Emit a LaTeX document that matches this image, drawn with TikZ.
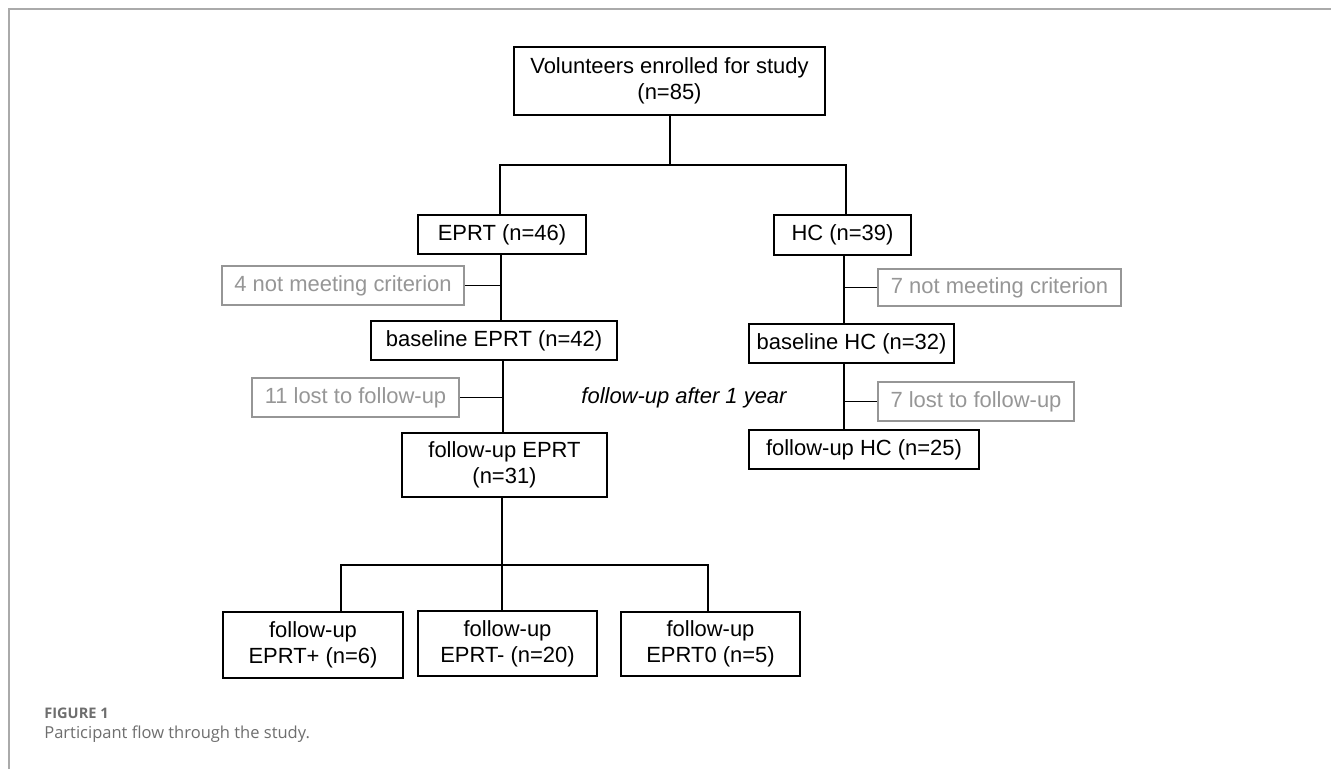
\documentclass[tikz,border=0pt]{standalone}
\usepackage{fontspec}
\setmainfont{Liberation Sans}
\newfontfamily\capfont{Open Sans}
\usetikzlibrary{positioning}
\definecolor{dropgray}{RGB}{150,150,150}
\definecolor{framegray}{RGB}{170,170,170}
\definecolor{capgray}{RGB}{110,110,110}
\tikzset{
  box/.style={draw, line width=1.1pt, align=center, inner sep=0pt,
    font=\fontsize{12.5}{14.7}\selectfont},
  dropbox/.style={box, draw=dropgray, text=dropgray},
  link/.style={line width=1.1pt}
}
\begin{document}
\begin{tikzpicture}[x=0.02cm, y=-0.02cm]
    % Fix the page
    \useasboundingbox (0,0) rectangle (1331,769);

    % Draw the frame
    \draw[framegray, line width=1.1pt] (9,769) -- (9,9) -- (1331,9);

    % Add boxes
    \node[box, minimum width=6.22cm, minimum height=1.36cm] (vol) at (669.5,81)
        {Volunteers enrolled for study\\(n=85)};
    \node[box, minimum width=3.36cm, minimum height=0.78cm] (eprt) at (502,234.5) {EPRT (n=46)};
    \node[box, minimum width=2.74cm, minimum height=0.8cm] (hc) at (842.5,235) {HC (n=39)};
    \node[box, minimum width=4.92cm, minimum height=0.78cm] (baseeprt) at (494,340.5) {baseline EPRT (n=42)};
    \node[box, minimum width=4.10cm, minimum height=0.78cm] (basehc) at (851.5,343.5) {baseline HC (n=32)};
    \node[box, minimum width=4.10cm, minimum height=1.28cm] (fueprt) at (504.5,465)
        {follow-up EPRT\\(n=31)};
    \node[box, minimum width=4.60cm, minimum height=0.78cm] (fuhc) at (864,449.5) {follow-up HC (n=25)};
    \node[box, minimum width=3.60cm, minimum height=1.32cm] (plus) at (313,645) {follow-up\\EPRT+ (n=6)};
    \node[box, minimum width=3.58cm, minimum height=1.30cm] (minus) at (507.5,643.5) {follow-up\\EPRT- (n=20)};
    \node[box, minimum width=3.58cm, minimum height=1.28cm] (zero) at (710.5,644) {follow-up\\EPRT0 (n=5)};

    % Add the drop-outs
    \node[dropbox, minimum width=4.84cm, minimum height=0.78cm] (crit4) at (343,285.5) {4 not meeting criterion};
    \node[dropbox, minimum width=4.14cm, minimum height=0.78cm] (lost11) at (355.5,397.5) {11 lost to follow-up};
    \node[dropbox, minimum width=4.86cm, minimum height=0.74cm] (crit7) at (999.5,287.5) {7 not meeting criterion};
    \node[dropbox, minimum width=3.92cm, minimum height=0.78cm] (lost7) at (976,401.5) {7 lost to follow-up};

    % Add the time label
    \node[font=\fontsize{12.5}{14.7}\selectfont\itshape] (year) at (684,398) {follow-up after 1 year};

    % Column and bar points
    \coordinate (colA) at (501,0);
    \coordinate (colB) at (844,0);
    \coordinate (split) at (670,165);
    \coordinate (barL) at (341,565);
    \coordinate (barR) at (708,565);

    % Draw the first split
    \draw[link] (vol.south -| split) -- (split);
    \draw[link] (eprt.north -| 500,0) -- (500,165) -- (846,165) -- (hc.north -| 846,0);

    % Draw the EPRT column
    \draw[link] (eprt.south -| colA) -- (baseeprt.north -| colA);
    \draw[link] (crit4.east) -- (crit4.east -| colA);
    \draw[link] (baseeprt.south -| 503,0) -- (fueprt.north -| 503,0);
    \draw[link] (lost11.east) -- (lost11.east -| 503,0);

    % Draw the HC column
    \draw[link] (hc.south -| colB) -- (basehc.north -| colB);
    \draw[link] (crit7.west) -- (crit7.west -| colB);
    \draw[link] (basehc.south -| colB) -- (fuhc.north -| colB);
    \draw[link] (lost7.west) -- (lost7.west -| colB);

    % Draw the last split
    \draw[link] (fueprt.south -| 502,0) -- (minus.north -| 502,0);
    \draw[link] (plus.north -| barL) -- (barL) -- (barR) -- (zero.north -| barR);

    % Add caption
    \node[anchor=base west, inner sep=0pt, text=capgray, font=\capfont\bfseries\fontsize{8.3}{10}\selectfont] (fig) at (44,718) {FIGURE 1};
    \node[anchor=base west, inner sep=0pt, text=capgray, font=\capfont\fontsize{9.4}{11}\selectfont] (cap) at (44,738) {Participant flow through the study.};
\end{tikzpicture}
\end{document}
